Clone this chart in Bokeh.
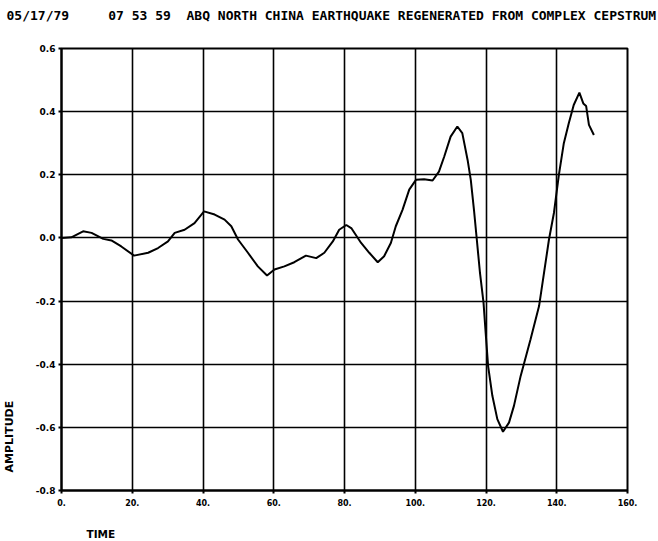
from bokeh.plotting import figure
from bokeh.models import FixedTicker, NumeralTickFormatter, Range1d, Title
from bokeh.embed import file_html
from bokeh.resources import INLINE

# ---- data ----
time = [0, 2.8, 6.1, 8.5, 11.8, 14.1, 16.9, 20.5, 24.5, 27.3, 30.1, 32.0, 34.8, 37.6,
        40.3, 43.3, 46.1, 48.0, 49.9, 52.7, 55.5, 58.1, 60.2, 63.0, 65.8, 69.1, 72.0,
        74.3, 76.7, 78.5, 80.5, 82.0, 84.7, 87.0, 89.4, 91.2, 93.1, 94.5, 96.4, 98.3,
        100.2, 102.5, 104.9, 106.7, 108.2, 110.0, 111.9, 113.3, 114.8, 115.7, 116.6,
        117.4, 118.3, 119.3, 119.9, 120.6, 121.8, 123.2, 124.8, 126.5, 127.9, 129.8,
        132.6, 135.0, 136.4, 137.8, 139.2, 140.6, 142.0, 143.4, 144.8, 146.4, 147.5,
        148.3, 149.1, 150.5]
amplitude = [0, 0.002, 0.021, 0.016, -0.003, -0.008, -0.027, -0.056, -0.047, -0.032,
             -0.011, 0.016, 0.026, 0.047, 0.084, 0.074, 0.058, 0.037, -0.005, -0.047,
             -0.090, -0.119, -0.100, -0.090, -0.077, -0.056, -0.064, -0.047, -0.011,
             0.026, 0.041, 0.030, -0.016, -0.047, -0.077, -0.058, -0.016, 0.037, 0.089,
             0.153, 0.184, 0.186, 0.182, 0.210, 0.258, 0.321, 0.353, 0.332, 0.247, 0.184,
             0.089, -0.005, -0.111, -0.205, -0.300, -0.406, -0.500, -0.574, -0.614,
             -0.585, -0.532, -0.437, -0.321, -0.216, -0.111, -0.005, 0.079, 0.200, 0.300,
             0.363, 0.421, 0.460, 0.426, 0.418, 0.358, 0.326]

x_ticks = [0, 20, 40, 60, 80, 100, 120, 140, 160]
x_tick_labels = ["0.", "20.", "40.", "60.", "80.", "100.", "120.", "140.", "160."]
y_ticks = [-0.8, -0.6, -0.4, -0.2, 0.0, 0.2, 0.4, 0.6]

title_parts = ["05/17/79", "07 53 59",
               "ABQ NORTH CHINA EARTHQUAKE REGENERATED FROM COMPLEX CEPSTRUM"]
y_label = "AMPLITUDE"
x_label = "TIME"

FONT = "DejaVu Sans"
MONO = "DejaVu Sans Mono"
NB = "\u00a0"

p = figure(width=658, height=541, output_backend="svg", toolbar_location=None,
           x_range=Range1d(0, 160), y_range=Range1d(-0.8, 0.6),
           min_border_left=60, min_border_right=31, min_border_top=48,
           min_border_bottom=51)
p.background_fill_color = "white"
p.border_fill_color = "white"
p.outline_line_color = "black"
p.outline_line_width = 2

p.xaxis.ticker = FixedTicker(ticks=x_ticks)
p.xaxis.major_label_overrides = {t: l for t, l in zip(x_ticks, x_tick_labels)}
p.yaxis.ticker = FixedTicker(ticks=y_ticks)
p.yaxis.formatter = NumeralTickFormatter(format="0.0")

for ax in (p.xaxis, p.yaxis):
    ax.axis_line_color = "black"
    ax.axis_line_width = 2
    ax.major_tick_line_color = "black"
    ax.major_tick_line_width = 2
    ax.major_tick_out = 3
    ax.major_tick_in = 0
    ax.minor_tick_line_color = None
    ax.major_label_text_color = "black"
    ax.major_label_text_font = FONT
    ax.major_label_text_font_style = "bold"
p.xaxis.major_label_text_font_size = "8px"
p.xaxis.major_label_standoff = 5
p.yaxis.major_label_text_font_size = "9px"
p.yaxis.major_label_standoff = 3

p.xgrid.ticker = FixedTicker(ticks=x_ticks)
p.ygrid.ticker = FixedTicker(ticks=y_ticks)
for g in (p.xgrid, p.ygrid):
    g.grid_line_color = "black"
    g.grid_line_width = 1.6
    g.grid_line_alpha = 1.0

p.line(time, amplitude, line_color="black", line_width=2)


def spacer(px):
    # blank layout slot that pushes the next title outward
    return Title(text=NB, text_font_size="1px", standoff=px - 3, text_color="white")


title_text = title_parts[0] + NB * 5 + title_parts[1] + NB * 2 + title_parts[2]
p.add_layout(spacer(22), "above")
p.add_layout(Title(text=title_text, align="left", offset=-55, text_font=MONO,
                   text_font_style="bold", text_font_size="13px", text_color="black",
                   vertical_align="top", standoff=4), "above")
p.add_layout(spacer(13), "left")
p.add_layout(Title(text=y_label, align="left", offset=18, text_font=FONT,
                   text_font_style="bold", text_font_size="11px", text_color="black",
                   vertical_align="top", standoff=4), "left")
p.add_layout(spacer(17), "below")
p.add_layout(Title(text=x_label, align="left", offset=25, text_font=FONT,
                   text_font_style="bold", text_font_size="10.5px", text_color="black",
                   vertical_align="bottom", standoff=0), "below")

open("out.html", "w").write(file_html(p, INLINE))
